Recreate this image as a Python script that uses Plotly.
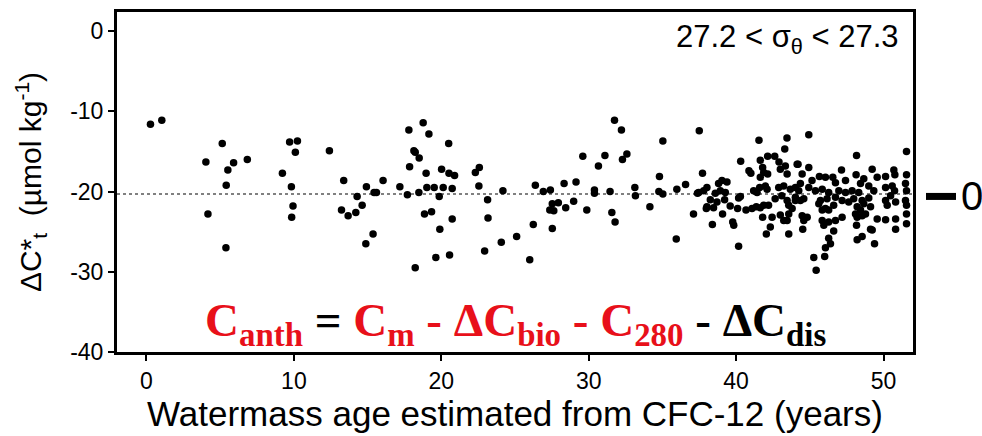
import plotly.graph_objects as go

# Watermass age (years) and Delta C*_t (umol/kg)
age = [
    0.27, 1.04, 4.03, 4.17, 5.14, 5.52, 5.91, 5.41, 5.39, 6.84,
    9.22, 9.71, 10.24, 10.1, 9.83, 9.94, 9.85, 12.41, 13.38, 13.23,
    13.68, 14.2, 14.63, 14.29, 14.92, 14.88, 15.37, 15.44, 15.6, 16.05,
    17.19, 17.7, 17.8, 17.85, 18.77, 19.16, 18.14, 18.23, 18.5, 18.97,
    18.48, 19.02, 19.52, 20.13, 20.74, 19.86, 18.86, 19.34, 20.74, 19.9,
    19.63, 20.56, 18.23, 20.02, 20.52, 20.9, 20.5, 22.31, 22.58, 22.55,
    23.14, 23.17, 22.94, 24.07, 24.18, 25.11, 26.0, 26.24, 26.38, 26.92,
    27.4, 27.36, 27.53, 27.94, 27.63, 27.53, 28.33, 28.44, 28.98, 29.14,
    29.6, 29.87, 30.66, 31.1, 31.75, 32.22, 32.29, 32.59, 30.39, 30.39,
    31.45, 31.57, 31.79, 33.13, 33.17, 34.15, 34.8, 35.03, 34.76, 35.03,
    35.94, 35.98, 36.57, 37.11, 37.38, 37.5,
    37.72, 41.55, 43.45, 43.3, 40.31, 40.87, 41.0, 41.64, 42.14, 42.62,
    42.91, 41.8, 41.87, 42.14, 43.0, 43.34, 43.46, 44.14, 39.04, 39.38,
    38.81, 41.64, 41.98, 41.6, 42.1, 41.19, 41.42, 42.89, 43.23, 43.68,
    44.02, 37.8, 37.46, 38.02, 38.59, 38.93, 39.27, 38.25, 38.7, 38.02,
    38.47, 37.98, 39.22, 39.6, 40.1, 40.17, 40.29, 40.67, 41.08, 41.37,
    41.64, 41.87, 41.8, 42.2, 42.44, 43.0, 43.23, 43.46, 43.57, 42.65,
    43.1, 43.46, 44.02, 43.57, 43.8, 39.08, 38.39, 39.77, 39.84, 42.32,
    42.05, 43.57, 40.17, 44.25, 44.36,
    44.93, 48.17, 51.56, 44.2, 44.93, 44.48, 47.15, 49.23, 50.7, 50.77,
    51.56, 48.14, 48.66, 49.57, 50.14, 45.65, 46.06, 46.56, 46.74, 47.42,
    45.15, 44.93, 44.36, 48.44, 49.0, 49.34, 48.32, 50.14, 50.59, 50.75,
    50.48, 51.49, 51.56, 45.38, 45.84, 46.28, 46.97, 47.42, 47.87, 44.59,
    44.02, 45.72, 46.17, 46.74, 46.62, 47.19, 47.64, 47.98, 48.55, 49.0,
    49.12, 48.66, 50.14, 50.25, 50.82, 51.49, 51.56, 45.61, 46.06, 46.28,
    45.84, 48.21, 48.44, 48.1, 48.78, 44.48, 44.82, 44.59, 47.19, 48.21,
    48.55, 49.57, 50.14, 50.82, 51.56, 51.56, 45.84, 46.28, 46.74, 45.95,
    48.17, 49.12, 50.82, 44.52, 46.62, 48.55, 48.21, 49.39, 46.28, 46.06,
    46.4, 45.27, 46.01, 45.43, 49.23,
]
delta_c = [
    -11.6, -11.1, -16.3, -22.8, -14.0, -17.3, -16.4, -19.2, -27.0, -16.0,
    -17.7, -13.8, -13.7, -15.1, -19.4, -21.8, -23.2, -14.9, -18.6, -22.3,
    -23.0, -22.6, -21.7, -20.6, -19.4, -26.5, -25.3, -20.1, -20.1, -18.6,
    -19.4, -20.4, -12.3, -16.9, -11.4, -12.8, -14.9, -15.1, -15.8, -17.7,
    -20.1, -19.5, -19.5, -19.5, -19.6, -20.6, -22.8, -22.5, -23.4, -24.7,
    -28.2, -27.9, -29.5, -17.2, -17.7, -18.0, -14.0, -17.6, -17.0, -19.3,
    -21.0, -23.3, -27.4, -26.3, -19.9, -25.6, -28.5, -24.1, -19.2, -20.0,
    -19.8, -22.3, -21.5, -21.4, -22.4, -24.6, -19.0, -22.0, -21.2, -18.8,
    -15.6, -22.3, -16.8, -15.5, -11.1, -12.3, -16.0, -15.3, -19.8, -20.2,
    -20.0, -22.6, -23.8, -19.5, -20.5, -21.9, -18.1, -13.7, -20.0, -20.3,
    -25.9, -19.7, -19.1, -22.8, -20.2, -12.4,
    -17.7, -13.6, -13.3, -14.7, -16.2, -17.4, -17.7, -16.1, -15.6, -15.6,
    -16.3, -17.0, -17.6, -17.8, -17.2, -16.8, -17.8, -16.6, -18.6, -18.8,
    -19.0, -18.2, -19.3, -19.5, -19.7, -19.9, -20.1, -19.5, -19.3, -19.7,
    -19.5, -19.9, -20.1, -19.5, -20.2, -19.9, -20.1, -21.0, -21.3, -21.9,
    -22.0, -22.1, -21.0, -21.8, -22.1, -20.8, -20.6, -22.3, -22.1, -21.9,
    -22.0, -21.7, -23.2, -21.7, -23.2, -22.9, -23.6, -23.6, -22.8, -20.9,
    -20.5, -21.1, -20.7, -21.7, -22.1, -22.8, -24.1, -23.8, -24.2, -24.4,
    -25.3, -25.3, -26.8, -19.9, -21.1,
    -12.9, -15.5, -15.0, -16.6, -17.0, -17.8, -17.3, -17.2, -17.3, -17.9,
    -17.9, -17.9, -18.4, -18.2, -18.1, -18.1, -18.2, -18.2, -18.9, -18.6,
    -18.6, -19.5, -19.0, -19.0, -19.3, -19.9, -20.1, -19.5, -19.3, -19.9,
    -20.5, -19.0, -19.9, -19.9, -19.7, -20.1, -19.9, -20.1, -19.9, -20.9,
    -21.1, -21.1, -20.9, -20.7, -21.7, -21.1, -21.3, -20.9, -21.1, -20.8,
    -21.9, -21.5, -21.1, -21.7, -21.3, -21.1, -21.7, -21.5, -22.1, -22.3,
    -22.3, -21.9, -22.3, -22.8, -22.8, -23.0, -23.2, -23.6, -23.2, -23.2,
    -23.0, -23.4, -23.5, -23.4, -22.8, -24.0, -23.6, -23.8, -23.6, -24.2,
    -24.2, -24.7, -24.7, -24.7, -24.9, -25.6, -26.0, -26.5, -25.8, -27.0,
    -26.5, -28.2, -28.1, -29.8, -24.8,
]

mean_level = -20.3
x_ticks = [0, 10, 20, 30, 40, 50]
y_ticks = [0, -10, -20, -30, -40]

fig = go.Figure()
fig.add_trace(go.Scatter(
    x=age, y=delta_c, mode="markers",
    marker=dict(color="black", size=7.5),
    showlegend=False, hoverinfo="skip",
))

fig.add_shape(type="line", xref="x", yref="y", x0=-2, x1=52,
              y0=mean_level, y1=mean_level,
              line=dict(color="#808080", width=2, dash="dot"), layer="below")

# thick marker outside the plot at the right
fig.add_shape(type="line", xref="paper", yref="y", x0=1.0163, x1=1.054,
              y0=-20.6, y1=-20.6, line=dict(color="black", width=7))
fig.add_annotation(xref="paper", yref="y", x=1.058, y=-20.6, text="0",
                   showarrow=False, xanchor="left", yanchor="middle",
                   font=dict(family="Liberation Sans, Arial", size=40, color="black"))

fig.add_annotation(xref="paper", yref="paper", x=0.985, y=0.985,
                   text="27.2 < σ<sub>θ</sub> < 27.3", showarrow=False,
                   xanchor="right", yanchor="top",
                   font=dict(family="Liberation Sans, Arial", size=31, color="black"))

red = "#e8101a"
eq = (f'<span style="color:{red}">C<sub>anth</sub></span> = '
      f'<span style="color:{red}">C<sub>m</sub> - ΔC<sub>bio</sub> - C<sub>280</sub></span>'
      ' - ΔC<sub>dis</sub>')
fig.add_annotation(xref="x", yref="y", x=25.0, y=-36.5, text="<b>" + eq + "</b>",
                   showarrow=False, xanchor="center", yanchor="middle",
                   font=dict(family="Liberation Serif, Times New Roman", size=47, color="black"))

axis_font = dict(family="Liberation Sans, Arial", size=23, color="black")
fig.update_layout(
    width=982, height=436,
    margin=dict(l=117, r=69, t=9, b=84),
    paper_bgcolor="white", plot_bgcolor="white",
    xaxis=dict(
        range=[-2, 52], tickvals=x_ticks, ticktext=[str(v) for v in x_ticks],
        showgrid=False, zeroline=False, showline=True, linecolor="black", linewidth=3,
        mirror=True, ticks="outside", ticklen=6, tickwidth=1.5, tickcolor="black",
        tickfont=axis_font,
        title=dict(text="Watermass age estimated from CFC-12 (years)",
                   font=dict(family="Liberation Sans, Arial", size=35, color="black"),
                   standoff=7),
    ),
    yaxis=dict(
        range=[-40, 2.4], tickvals=y_ticks, ticktext=[str(v) for v in y_ticks],
        showgrid=False, zeroline=False, showline=True, linecolor="black", linewidth=3,
        mirror=True, ticks="outside", ticklen=6, tickwidth=1.5, tickcolor="black",
        tickfont=axis_font,
        title=dict(text="ΔC*<sub>t</sub>  (µmol kg<sup>-1</sup>)",
                   font=dict(family="Liberation Sans, Arial", size=30, color="black"),
                   standoff=20),
    ),
)

fig.write_html("out.html")
